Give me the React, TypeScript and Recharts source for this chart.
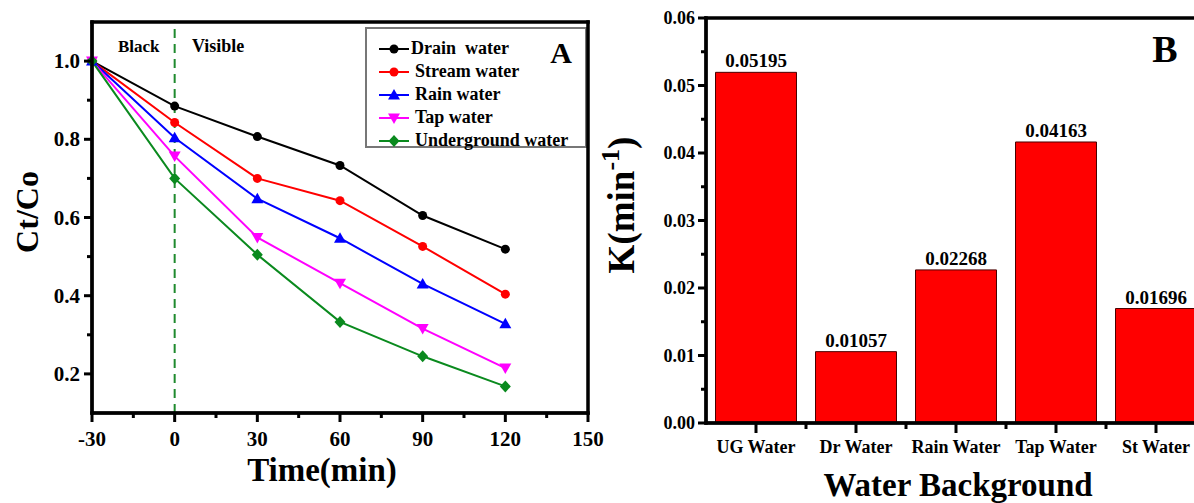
import { LineChart, Line, XAxis, YAxis, ReferenceLine, Legend, BarChart, Bar, LabelList } from 'recharts';

// Degradation curves (Ct/Co vs time)
const times = [-30, 0, 30, 60, 90, 120];
const drainWater = [1.0, 0.885, 0.807, 0.733, 0.605, 0.519];
const streamWater = [1.0, 0.843, 0.7, 0.643, 0.526, 0.404];
const rainWater = [1.0, 0.804, 0.648, 0.547, 0.43, 0.328];
const tapWater = [1.0, 0.757, 0.549, 0.432, 0.316, 0.215];
const undergroundWater = [1.0, 0.7, 0.505, 0.333, 0.245, 0.168];

const timeTicks = [-30, -15, 0, 15, 30, 45, 60, 75, 90, 105, 120, 135, 150];
const ratioTicks = [0.2, 0.3, 0.4, 0.5, 0.6, 0.7, 0.8, 0.9, 1.0];

// Rate constants per water background
const waterTypes = ['UG Water', 'Dr Water', 'Rain Water', 'Tap Water', 'St Water'];
const rateConstants = [0.05195, 0.01057, 0.02268, 0.04163, 0.01696];
const rateTicks = [0, 0.005, 0.01, 0.015, 0.02, 0.025, 0.03, 0.035, 0.04, 0.045, 0.05, 0.055, 0.06];

const FONT = '"Liberation Serif", "Times New Roman", serif';
const PAGE_W = 1194;
const PAGE_H = 503;

// plot boxes (page pixels); chart margins and axis sizes are derived from these
const boxA = { left: 92, top: 22, right: 588, bottom: 413 };
const chartAWidth = 630;
const chartBLeft = 600;
const chartBWidth = 620;
const boxB = { left: 706, top: 18, right: 1206, bottom: 423 };
const BAND = (boxB.right - boxB.left) / waterTypes.length;

type Shape = 'circle' | 'triangle' | 'triangleDown' | 'diamond';

const seriesList: { key: string; name: string; color: string; shape: Shape; values: number[] }[] = [
  { key: 'drain', name: 'Drain\u00a0 water', color: '#000000', shape: 'circle', values: drainWater },
  { key: 'stream', name: 'Stream water', color: '#ff0000', shape: 'circle', values: streamWater },
  { key: 'rain', name: 'Rain water', color: '#0000ff', shape: 'triangle', values: rainWater },
  { key: 'tap', name: 'Tap water', color: '#ff00ff', shape: 'triangleDown', values: tapWater },
  { key: 'ug', name: 'Underground water', color: '#0a8a1e', shape: 'diamond', values: undergroundWater },
];

const lineData = times.map((t, i) => {
  const row: Record<string, number> = { time: t };
  seriesList.forEach((s) => (row[s.key] = s.values[i]));
  return row;
});

const barData = waterTypes.map((w, i) => ({ water: w, k: rateConstants[i] }));

const Marker = ({ cx, cy, shape, color }: { cx: number; cy: number; shape: Shape; color: string }) => {
  if (shape === 'circle') return <circle cx={cx} cy={cy} r={4.5} fill={color} />;
  if (shape === 'triangle')
    return <polygon points={`${cx},${cy - 6} ${cx + 6},${cy + 4.5} ${cx - 6},${cy + 4.5}`} fill={color} />;
  if (shape === 'triangleDown')
    return <polygon points={`${cx - 6},${cy - 4.5} ${cx + 6},${cy - 4.5} ${cx},${cy + 6}`} fill={color} />;
  return <polygon points={`${cx},${cy - 6} ${cx + 5.5},${cy} ${cx},${cy + 6} ${cx - 5.5},${cy}`} fill={color} />;
};

const tickText = { fontFamily: FONT, fontWeight: 700, fill: '#000', stroke: 'none' } as const;

const TimeTick = ({ x, y, payload }: any) => {
  const v = payload.value;
  const major = v % 30 === 0;
  return (
    <g>
      <line x1={x} y1={y} x2={x} y2={y + (major ? 9 : 5)} stroke="#000" strokeWidth={3} />
      {major && (
        <text x={x} y={y + 33} textAnchor="middle" fontSize={21} {...tickText}>
          {v}
        </text>
      )}
    </g>
  );
};

const RatioTick = ({ x, y, payload }: any) => {
  const v = payload.value;
  const major = Math.round(v * 10) % 2 === 0;
  return (
    <g>
      <line x1={x} y1={y} x2={x - (major ? 8 : 5)} y2={y} stroke="#000" strokeWidth={3} />
      {major && (
        <text x={x - 12} y={y + 7} textAnchor="end" fontSize={21} {...tickText}>
          {v.toFixed(1)}
        </text>
      )}
    </g>
  );
};

const RateTick = ({ x, y, payload }: any) => {
  const v = payload.value;
  const major = Math.round(v * 1000) % 10 === 0;
  return (
    <g>
      <line x1={x} y1={y} x2={x - (major ? 8 : 5)} y2={y} stroke="#000" strokeWidth={3} />
      {major && (
        <text x={x - 11} y={y + 6} textAnchor="end" fontSize={18} {...tickText}>
          {v.toFixed(2)}
        </text>
      )}
    </g>
  );
};

const WaterTick = ({ x, y, payload }: any) => (
  <g>
    <line x1={x} y1={y} x2={x} y2={y + 10} stroke="#000" strokeWidth={3} />
    <line x1={x + BAND / 2} y1={y} x2={x + BAND / 2} y2={y + 6} stroke="#000" strokeWidth={3} />
    <text x={x} y={y + 30} textAnchor="middle" fontSize={18} {...tickText}>
      {payload.value}
    </text>
  </g>
);

const LegendBox = () => (
  <div
    style={{
      width: 222,
      height: 121,
      boxSizing: 'border-box',
      border: '2px solid #777',
      background: '#fff',
      paddingTop: 8,
      fontFamily: FONT,
      fontWeight: 700,
      fontSize: 18,
    }}
  >
    {seriesList.map((s, i) => (
      <div key={s.key} style={{ display: 'flex', alignItems: 'center', height: 23 }}>
        <svg width={30} height={14} style={{ marginLeft: 12, flex: 'none' }}>
          <line x1={0} y1={7} x2={30} y2={7} stroke={s.color} strokeWidth={2} />
          <Marker cx={15} cy={7} shape={s.shape} color={s.color} />
        </svg>
        <span style={{ marginLeft: i === 0 ? 2 : 6, whiteSpace: 'pre', lineHeight: '23px' }}>{s.name}</span>
      </div>
    ))}
  </div>
);

const titleText = { fontFamily: FONT, fontWeight: 700, fill: '#000' } as const;

// four heavy edges of a plot box, as filled strips
const Frame = ({ box, w }: { box: { left: number; top: number; right: number; bottom: number }; w: number }) => (
  <g fill="#000">
    <rect x={box.left - w / 2} y={box.top - w / 2} width={box.right - box.left + w} height={w} />
    <rect x={box.left - w / 2} y={box.bottom - w / 2} width={box.right - box.left + w} height={w} />
    <rect x={box.left - w / 2} y={box.top - w / 2} width={w} height={box.bottom - box.top + w} />
    <rect x={box.right - w / 2} y={box.top - w / 2} width={w} height={box.bottom - box.top + w} />
  </g>
);

export default function App() {
  return (
    <div style={{ position: 'fixed', left: 0, top: 0, width: PAGE_W, height: PAGE_H, overflow: 'hidden', background: '#fff' }}>
      {/* A: Ct/Co versus irradiation time */}
      <div style={{ position: 'absolute', left: 0, top: 0 }}>
        <LineChart
          width={chartAWidth}
          height={PAGE_H}
          data={lineData}
          margin={{ top: boxA.top, right: chartAWidth - boxA.right, bottom: 0, left: 0 }}
        >
          <XAxis
            dataKey="time"
            type="number"
            domain={[-30, 150]}
            ticks={timeTicks}
            interval={0}
            height={PAGE_H - boxA.bottom}
            tickSize={0}
            tickMargin={0}
            tick={<TimeTick />}
            axisLine={{ stroke: '#000', strokeWidth: 3 }}
          />
          <YAxis
            type="number"
            domain={[0.1, 1.1]}
            ticks={ratioTicks}
            interval={0}
            width={boxA.left}
            tickSize={0}
            tickMargin={0}
            tick={<RatioTick />}
            axisLine={{ stroke: '#000', strokeWidth: 3 }}
          />
          <ReferenceLine x={0} stroke="#1f8a2e" strokeWidth={2} strokeDasharray="9 6" />
          <Legend
            layout="horizontal"
            verticalAlign="middle"
            align="center"
            content={<LegendBox />}
            wrapperStyle={{ left: 365, top: 27, width: 222, height: 121 }}
          />
          {seriesList.map((s) => (
            <Line
              key={s.key}
              dataKey={s.key}
              name={s.name}
              stroke={s.color}
              strokeWidth={2}
              isAnimationActive={false}
              dot={(p: any) => <Marker key={`${s.key}-${p.index}`} cx={p.cx} cy={p.cy} shape={s.shape} color={s.color} />}
              activeDot={false}
            />
          ))}
        </LineChart>
      </div>

      {/* B: pseudo-first-order rate constants */}
      <div style={{ position: 'absolute', left: chartBLeft, top: 0 }}>
        <BarChart
          width={chartBWidth}
          height={PAGE_H}
          data={barData}
          barCategoryGap="9.5%"
          margin={{ top: boxB.top, right: chartBLeft + chartBWidth - boxB.right, bottom: 0, left: 0 }}
        >
          <XAxis
            dataKey="water"
            interval={0}
            height={PAGE_H - boxB.bottom}
            tickSize={0}
            tickMargin={0}
            tick={<WaterTick />}
            axisLine={{ stroke: '#000', strokeWidth: 3 }}
          />
          <YAxis
            type="number"
            domain={[0, 0.06]}
            ticks={rateTicks}
            interval={0}
            width={boxB.left - chartBLeft}
            tickSize={0}
            tickMargin={0}
            tick={<RateTick />}
            axisLine={{ stroke: '#000', strokeWidth: 3 }}
          />
          <Bar dataKey="k" fill="#ff0000" stroke="#4a0000" strokeWidth={1} isAnimationActive={false}>
            <LabelList
              dataKey="k"
              position="top"
              offset={5}
              formatter={(v: any) => Number(v).toFixed(5)}
              style={{ fontFamily: FONT, fontWeight: 700, fontSize: 19, fill: '#000' }}
            />
          </Bar>
        </BarChart>
      </div>

      {/* plot frames, axis titles and panel letters */}
      <svg width={PAGE_W} height={PAGE_H} style={{ position: 'absolute', left: 0, top: 0, pointerEvents: 'none' }}>
        <Frame box={boxA} w={3.5} />
        <Frame box={boxB} w={3.5} />

        <text x={118} y={52} fontSize={17} {...titleText}>Black</text>
        <text x={192} y={52} fontSize={18} {...titleText}>Visible</text>
        <text x={561} y={63} fontSize={30} textAnchor="middle" {...titleText}>A</text>
        <text x={38} y={212} fontSize={32} textAnchor="middle" transform="rotate(-90 38 212)" {...titleText}>
          Ct/Co
        </text>
        <text x={322} y={481} fontSize={33} textAnchor="middle" {...titleText}>Time(min)</text>

        <text x={1165} y={62} fontSize={38} textAnchor="middle" {...titleText}>B</text>
        <text x={634} y={205} fontSize={37} textAnchor="middle" transform="rotate(-90 634 205)" {...titleText}>
          <tspan>K(min</tspan>
          <tspan fontSize={26} dy={-15}>-1</tspan>
          <tspan dy={15}>)</tspan>
        </text>
        <text x={958} y={496} fontSize={33} textAnchor="middle" {...titleText}>Water Background</text>
      </svg>
    </div>
  );
}
